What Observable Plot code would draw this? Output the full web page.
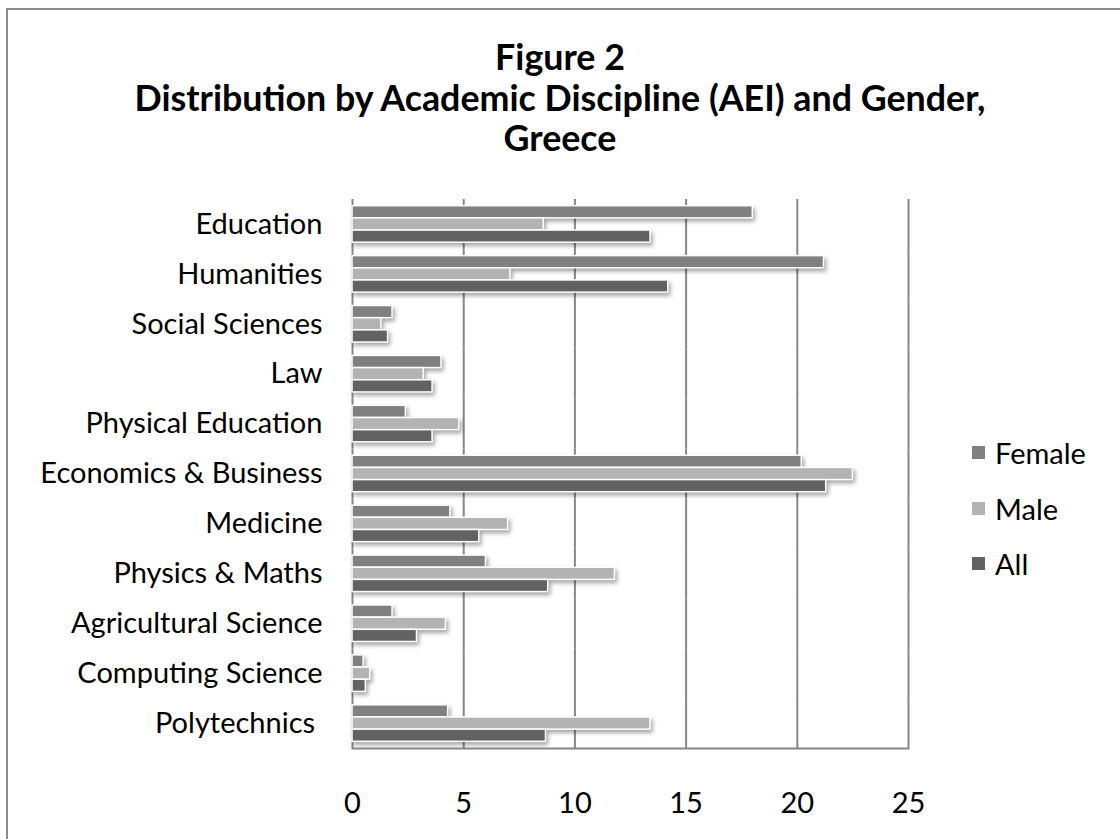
<!DOCTYPE html>
<html>
<head>
<meta charset="utf-8">
<script src="https://cdn.jsdelivr.net/npm/d3@7"></script>
<script src="https://cdn.jsdelivr.net/npm/@observablehq/plot@0.6"></script>
<style>
  html, body { margin: 0; padding: 0; background: #fff; }
  #page { position: relative; width: 1120px; height: 839px; overflow: hidden; font-family: Lato, "Open Sans", sans-serif; }
  #frameTop { position: absolute; left: 6px; top: 8px; width: 1114px; height: 0; border-top: 2px solid #8c8c8c; }
  #frameLeft { position: absolute; left: 6px; top: 8px; width: 0; height: 831px; border-left: 2px solid #8c8c8c; }
  #chart { position: absolute; left: 0; top: 0; }
  #title { position: absolute; left: 0; width: 1120px; top: 37px; text-align: center; font-weight: 700; font-size: 35.8px; line-height: 40.5px; color: #000; }
  #legend { position: absolute; left: 972px; top: 425px; font-size: 29px; color: #000; }
  .li { display: flex; align-items: center; height: 55.5px; }
  .sw { width: 13px; height: 13px; margin-right: 10px; }
</style>
</head>
<body>
<div id="page">
  <div id="chart"></div>
  <div id="frameTop"></div>
  <div id="frameLeft"></div>
  <div id="title">Figure 2<br>Distribution by Academic Discipline (AEI) and Gender,<br>Greece</div>
  <div id="legend"></div>
</div>
<script>
const categories = ["Education", "Humanities", "Social Sciences", "Law", "Physical Education",
  "Economics & Business", "Medicine", "Physics & Maths", "Agricultural Science",
  "Computing Science", "Polytechnics "];
const series = ["Female", "Male", "All"];
const female = [18.0, 21.2, 1.8, 4.0, 2.4, 20.2, 4.4, 6.0, 1.8, 0.5, 4.3];
const male   = [8.6, 7.1, 1.3, 3.2, 4.8, 22.5, 7.0, 11.8, 4.2, 0.8, 13.4];
const all    = [13.4, 14.2, 1.6, 3.6, 3.6, 21.3, 5.7, 8.8, 2.9, 0.6, 8.7];
const colors = ["#808080", "#b3b3b3", "#626262"];
const xTicks = [0, 5, 10, 15, 20, 25];

const values = {Female: female, Male: male, All: all};
const data = [];
categories.forEach((c, i) => series.forEach(s => data.push({category: c, series: s, value: values[s][i]})));

const plot = Plot.plot({
  width: 1120,
  height: 839,
  marginLeft: 352,
  marginRight: 212,
  marginTop: 199,
  marginBottom: 91,
  style: {background: "transparent", fontFamily: "Lato, 'Open Sans', sans-serif", fontSize: "29px", color: "#000"},
  x: {domain: [0, 25], ticks: xTicks, tickSize: 0, tickPadding: 44, label: null},
  y: {domain: series, padding: 0, paddingOuter: 0.55, round: false, axis: null},
  fy: {domain: categories, padding: 0, round: false, label: null, tickSize: 0, tickPadding: 30, axis: "left"},
  color: {domain: series, range: colors},
  marks: [
    Plot.ruleX(xTicks, {stroke: "#868686", strokeWidth: 2}),
    Plot.barX(data, {fy: "category", y: "series", x: "value", fill: "series", stroke: "white", strokeWidth: 1.5}),
    Plot.frame({anchor: "bottom", stroke: "#868686", strokeWidth: 2, facet: "super"})
  ]
});
document.getElementById("chart").appendChild(plot);
d3.select(plot).selectAll('g[aria-label="bar"]').style("filter", "drop-shadow(2px 3px 2px rgba(0,0,0,0.35))");

const legend = document.getElementById("legend");
series.forEach((s, i) => {
  const row = document.createElement("div");
  row.className = "li";
  row.innerHTML = `<div class="sw" style="background:${colors[i]}"></div><span>${s}</span>`;
  legend.appendChild(row);
});
</script>
</body>
</html>
